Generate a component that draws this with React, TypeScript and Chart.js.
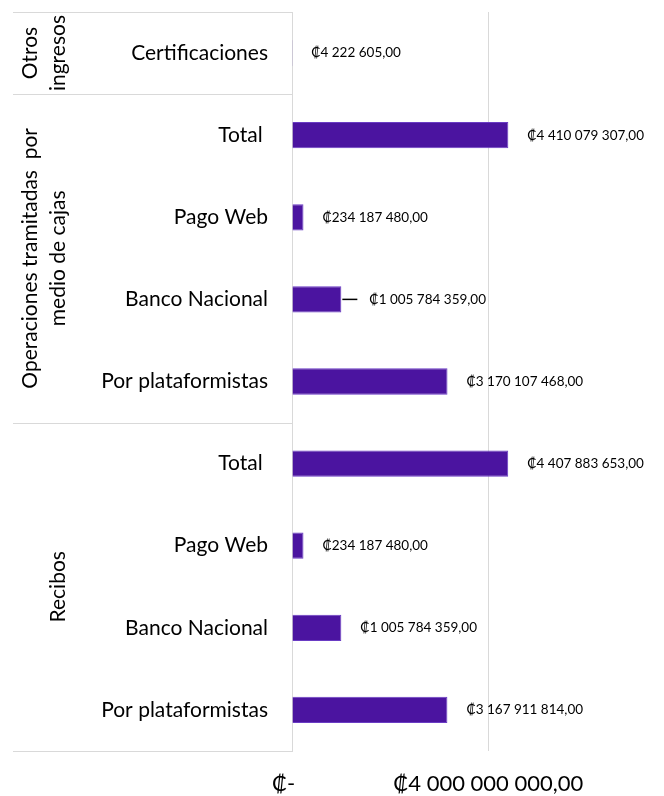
import React, { useEffect, useRef } from "react";
import { Chart, registerables } from "chart.js";

Chart.register(...registerables);

const categories = [
  "Certificaciones",
  "Total ",
  "Pago Web",
  "Banco Nacional",
  "Por plataformistas",
  "Total ",
  "Pago Web",
  "Banco Nacional",
  "Por plataformistas",
];

const values = [
  4222605, 4410079307, 234187480, 1005784359, 3170107468, 4407883653,
  234187480, 1005784359, 3167911814,
];

const groupNames = [["Otros", "ingresos"], ["Operaciones tramitadas  por", "medio de cajas"], ["Recibos"]];
const groupStarts = [0, 1, 5];
const groupCounts = [1, 4, 4];

const xTickValues = [0, 4000000000];

const FONT = "Lato, 'Noto Sans', 'DejaVu Sans', sans-serif";

const fmt = (v: number) => {
  if (v === 0) return "₡-   ";
  const [i, d] = v.toFixed(2).split(".");
  return "₡" + i.replace(/\B(?=(\d{3})+(?!\d))/g, " ") + "," + d;
};

const overlay = {
  id: "overlay",
  afterDraw(chart: any) {
    const ctx = chart.ctx as CanvasRenderingContext2D;
    const y = chart.scales.y;
    const area = chart.chartArea;
    const step = Math.abs(y.getPixelForValue(1) - y.getPixelForValue(0));
    ctx.save();
    ctx.strokeStyle = "#d9d9d9";
    ctx.lineWidth = 1;
    const bounds = [0, ...groupStarts.map((s, k) => s + groupCounts[k])];
    bounds.forEach((b) => {
      const py = Math.round(y.getPixelForValue(b) - step / 2) + 0.5;
      ctx.beginPath();
      ctx.moveTo(13, py);
      ctx.lineTo(area.left, py);
      ctx.stroke();
    });
    ctx.fillStyle = "#000";
    ctx.font = `21px ${FONT}`;
    ctx.textAlign = "center";
    ctx.textBaseline = "middle";
    groupNames.forEach((lines, k) => {
      const cy =
        (y.getPixelForValue(groupStarts[k]) +
          y.getPixelForValue(groupStarts[k] + groupCounts[k] - 1)) /
        2;
      const xs = lines.length === 2 ? [30, 58] : [58];
      lines.forEach((t, j) => {
        ctx.save();
        ctx.translate(xs[j], cy);
        ctx.rotate(-Math.PI / 2);
        ctx.fillText(t, 0, 0);
        ctx.restore();
      });
    });
    const meta = chart.getDatasetMeta(0);
    ctx.font = `13.5px ${FONT}`;
    ctx.textAlign = "left";
    meta.data.forEach((bar: any, i: number) => {
      const lead = i === 3;
      if (lead) {
        ctx.strokeStyle = "#000";
        ctx.lineWidth = 1.5;
        ctx.beginPath();
        ctx.moveTo(bar.x + 1, bar.y);
        ctx.lineTo(bar.x + 16, bar.y);
        ctx.stroke();
      }
      ctx.fillStyle = "#000";
      ctx.fillText(fmt(values[i]), bar.x + (lead ? 28 : 19), bar.y);
    });
    ctx.restore();
  },
};

export default function App() {
  const ref = useRef<HTMLCanvasElement>(null);
  useEffect(() => {
    document.body.style.margin = "0";
    const chart = new Chart(ref.current!, {
      type: "bar",
      data: {
        labels: categories,
        datasets: [
          {
            data: values,
            backgroundColor: "#4b14a0",
            borderColor: "#6a3cc4",
            borderWidth: 1,
            barPercentage: 0.32,
            categoryPercentage: 1,
          },
        ],
      },
      options: {
        indexAxis: "y",
        animation: false,
        responsive: false,
        maintainAspectRatio: false,
        layout: { padding: { top: 12, right: 9, left: 0, bottom: 0 } },
        plugins: { legend: { display: false }, tooltip: { enabled: false } },
        scales: {
          x: {
            min: 0,
            max: 7400000000,
            afterFit: (s: any) => {
              s.height = 45;
              s.paddingLeft = 0;
              s.paddingRight = 0;
            },
            afterBuildTicks: (s: any) => {
              s.ticks = xTickValues.map((v) => ({ value: v }));
            },
            grid: { color: "#d9d9d9", lineWidth: 1, drawTicks: false },
            border: { display: false },
            ticks: {
              padding: 20,
              color: "#000",
              font: { family: FONT, size: 22 },
              maxRotation: 0,
              callback: (v: any) => fmt(Number(v)),
            },
          },
          y: {
            afterFit: (s: any) => {
              s.width = 292;
              s.paddingTop = 0;
              s.paddingBottom = 0;
            },
            grid: { display: false, drawTicks: false },
            border: { display: true, color: "#d9d9d9" },
            ticks: {
              padding: 24,
              color: "#000",
              font: { family: FONT, size: 21 },
              autoSkip: false,
            },
          },
        },
      },
      plugins: [overlay],
    });
    return () => chart.destroy();
  }, []);
  return <canvas ref={ref} width={664} height={796} style={{ display: "block" }} />;
}
